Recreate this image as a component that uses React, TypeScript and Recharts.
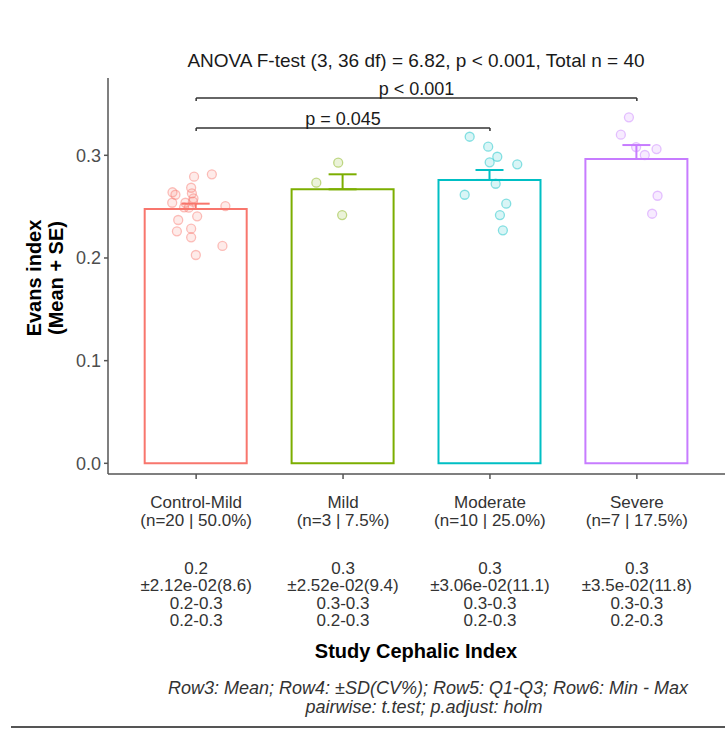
import { ComposedChart, Bar, Scatter, XAxis, YAxis, ErrorBar, ReferenceLine } from "recharts"

const groups = ["Control-Mild", "Mild", "Moderate", "Severe"]
const groupKeys = ["cm", "mild", "mod", "sev"]
const nLabels = ["(n=20 | 50.0%)", "(n=3 | 7.5%)", "(n=10 | 25.0%)", "(n=7 | 17.5%)"]
const meanLabels = ["0.2", "0.3", "0.3", "0.3"]
const sdLabels = ["±2.12e-02(8.6)", "±2.52e-02(9.4)", "±3.06e-02(11.1)", "±3.5e-02(11.8)"]
const iqrLabels = ["0.2-0.3", "0.3-0.3", "0.3-0.3", "0.3-0.3"]
const rangeLabels = ["0.2-0.3", "0.2-0.3", "0.2-0.3", "0.2-0.3"]
const colors = ["#F8766D", "#7CAE00", "#00BFC4", "#C77CFF"]

const means = [0.2477, 0.2669, 0.276, 0.2964]
const se = [0.0052, 0.0146, 0.0097, 0.0136]

// individual observations (value, horizontal jitter in category units)
const cmValues = [0.2792, 0.2815, 0.2684, 0.264, 0.2616, 0.263, 0.2581, 0.2538, 0.2538, 0.2493,
  0.2506, 0.2548, 0.237, 0.2406, 0.226, 0.2285, 0.2201, 0.2117, 0.2029, 0.249]
const cmJitter = [-0.014, 0.107, -0.034, -0.161, -0.141, -0.029, -0.018, -0.163, -0.073, -0.082,
  0.199, -0.022, -0.122, 0.007, -0.131, -0.034, -0.034, 0.179, -0.002, -0.05]
const mildValues = [0.2928, 0.2733, 0.2418]
const mildJitter = [-0.033, -0.182, -0.006]
const modValues = [0.3181, 0.3084, 0.2986, 0.2932, 0.2912, 0.2723, 0.2616, 0.2529, 0.2418, 0.2269]
const modJitter = [-0.138, -0.012, 0.05, -0.002, 0.186, 0.039, -0.172, 0.111, 0.068, 0.088]
const sevValues = [0.337, 0.3201, 0.3061, 0.3003, 0.2606, 0.2431, 0.308]
const sevJitter = [-0.054, -0.109, 0.134, 0.054, 0.141, 0.104, -0.005]

const yTicks = [0, 0.1, 0.2, 0.3]

const barData = groups.map((g, i) => ({
  group: g,
  [groupKeys[i]]: means[i],
  [groupKeys[i] + "Err"]: [0, se[i]],
}))

const pointSets = [
  [cmValues, cmJitter],
  [mildValues, mildJitter],
  [modValues, modJitter],
  [sevValues, sevJitter],
].map(([vals, jit], i) => vals.map((v, k) => ({ x: i + jit[k], y: v })))

const W = 725
const H = 729
const LEFT = 108
const TOP = 78
const AXIS_Y = 474
const PLOT_W = W - LEFT
const PAD = (PLOT_W * 0.1) / 4.2
const FONT = "'Liberation Sans', Arial, sans-serif"

function GroupTick(props: any) {
  const { x, y, payload } = props
  const i = groups.indexOf(payload.value)
  const lines: [string, number][] = [
    [groups[i], 21],
    [nLabels[i], 39],
    [meanLabels[i], 87],
    [sdLabels[i], 104.5],
    [iqrLabels[i], 122],
    [rangeLabels[i], 139.5],
  ]
  return (
    <g>
      {lines.map(([t, dy], k) => (
        <text key={k} x={x} y={y + dy} textAnchor="middle" dominantBaseline="central"
          fontSize={17} fill="#333" fontFamily={FONT}>{t}</text>
      ))}
    </g>
  )
}

const dot = (color: string) => (p: any) => (
  <circle cx={p.cx} cy={p.cy} r={4.5} fill={color} fillOpacity={0.15}
    stroke={color} strokeOpacity={0.45} strokeWidth={1.3} />
)

export default function App() {
  return (
    <div style={{ position: "absolute", left: 0, top: 0, width: W, height: H, background: "#fff" }}>
      <ComposedChart width={W} height={H} data={barData}
        margin={{ top: TOP, right: 0, bottom: 0, left: 0 }}>
        <XAxis dataKey="group" type="category" height={H - AXIS_Y} padding={{ left: PAD, right: PAD }}
          tick={<GroupTick />} tickSize={5} tickMargin={2} interval={0}
          axisLine={{ stroke: "#555", strokeWidth: 1.5 }} tickLine={{ stroke: "#555", strokeWidth: 1.5 }} />
        <XAxis xAxisId="j" dataKey="x" type="number" domain={[-0.6, 3.6]} hide allowDataOverflow />
        <YAxis width={LEFT} domain={[-0.0104, 0.3753]} ticks={yTicks} allowDataOverflow
          tickFormatter={(v: number) => v.toFixed(1)} tickSize={4} tickMargin={3}
          tick={{ fontSize: 18, fill: "#4d4d4d", fontFamily: FONT }}
          axisLine={{ stroke: "#555", strokeWidth: 1.5 }} tickLine={{ stroke: "#555", strokeWidth: 1.5 }} />
        {groupKeys.map((k, i) => (
          <Bar key={k} dataKey={k} stackId="s" barSize={102} fill="none" stroke={colors[i]}
            strokeWidth={2} isAnimationActive={false}>
            <ErrorBar dataKey={k + "Err"} direction="y" width={14} stroke={colors[i]} strokeWidth={2} />
          </Bar>
        ))}
        {pointSets.map((pts, i) => (
          <Scatter key={i} xAxisId="j" data={pts} dataKey="y" shape={dot(colors[i])} isAnimationActive={false} />
        ))}
        <ReferenceLine segment={[{ x: "Control-Mild", y: 0.3558 }, { x: "Severe", y: 0.3558 }]}
          stroke="#333" strokeWidth={1.5}
          label={{ value: "p < 0.001", position: "top", offset: 3, fontSize: 18, fill: "#1a1a1a", fontFamily: FONT }} />
        <ReferenceLine segment={[{ x: "Control-Mild", y: 0.3558 }, { x: "Control-Mild", y: 0.3528 }]} stroke="#333" strokeWidth={1.5} />
        <ReferenceLine segment={[{ x: "Severe", y: 0.3558 }, { x: "Severe", y: 0.3528 }]} stroke="#333" strokeWidth={1.5} />
        <ReferenceLine segment={[{ x: "Control-Mild", y: 0.3266 }, { x: "Moderate", y: 0.3266 }]}
          stroke="#333" strokeWidth={1.5}
          label={{ value: "p = 0.045", position: "top", offset: 3, fontSize: 18, fill: "#1a1a1a", fontFamily: FONT }} />
        <ReferenceLine segment={[{ x: "Control-Mild", y: 0.3266 }, { x: "Control-Mild", y: 0.3236 }]} stroke="#333" strokeWidth={1.5} />
        <ReferenceLine segment={[{ x: "Moderate", y: 0.3266 }, { x: "Moderate", y: 0.3236 }]} stroke="#333" strokeWidth={1.5} />
      </ComposedChart>
      <svg width={W} height={H} style={{ position: "absolute", left: 0, top: 0, pointerEvents: "none" }}
        fontFamily={FONT}>
        <text x={416} y={60} textAnchor="middle" dominantBaseline="central" fontSize={19} fill="#1a1a1a">
          ANOVA F-test (3, 36 df) = 6.82, p &lt; 0.001, Total n = 40
        </text>
        <g transform="translate(45,278) rotate(-90)">
          <text x={0} y={-11} textAnchor="middle" dominantBaseline="central" fontSize={20} fontWeight="bold" fill="#000">Evans index</text>
          <text x={0} y={11} textAnchor="middle" dominantBaseline="central" fontSize={20} fontWeight="bold" fill="#000">(Mean + SE)</text>
        </g>
        <text x={416} y={651} textAnchor="middle" dominantBaseline="central" fontSize={20} fontWeight="bold" fill="#000">
          Study Cephalic Index
        </text>
        <text x={428} y={688} textAnchor="middle" dominantBaseline="central" fontSize={18} fontStyle="italic" fill="#333">
          Row3: Mean; Row4: ±SD(CV%); Row5: Q1-Q3; Row6: Min - Max
        </text>
        <text x={424} y={707} textAnchor="middle" dominantBaseline="central" fontSize={18} fontStyle="italic" fill="#333">
          pairwise: t.test; p.adjust: holm
        </text>
        <line x1={11} x2={W} y1={727} y2={727} stroke="#555" strokeWidth={2} />
      </svg>
    </div>
  )
}
